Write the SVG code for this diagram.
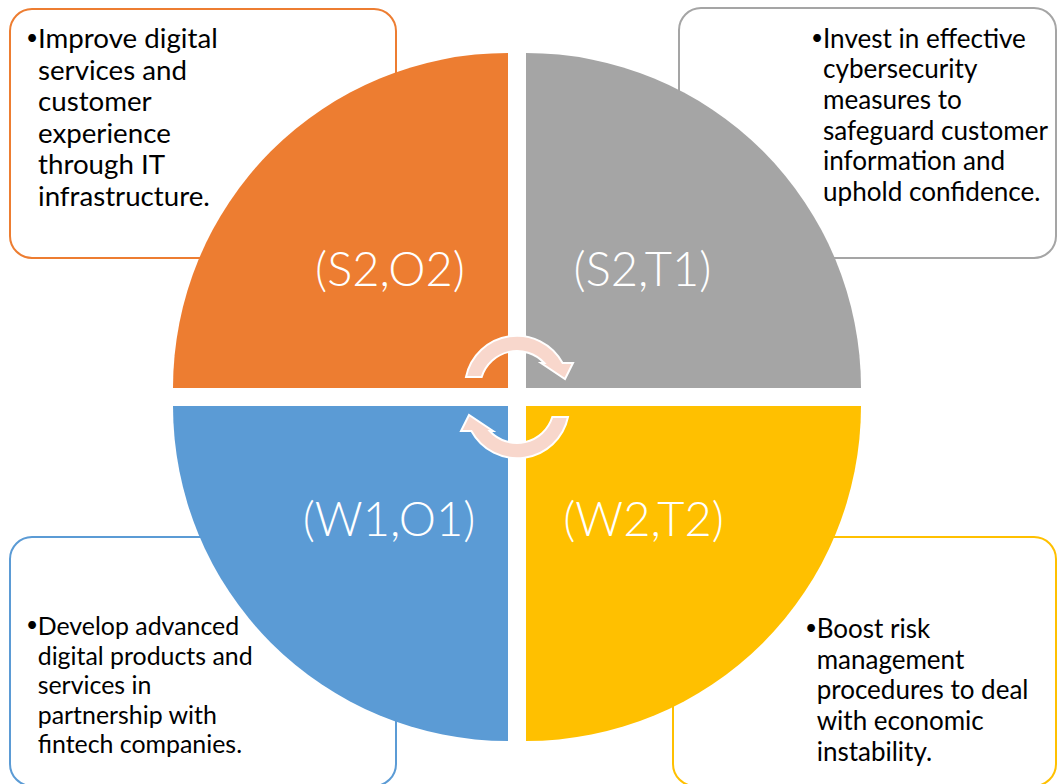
<svg xmlns="http://www.w3.org/2000/svg" width="1057" height="784" viewBox="0 0 1057 784">
  <style>
    .box { fill: #FFFFFF; stroke-width: 2; }
    .body { font-family: Lato, "Liberation Sans", sans-serif; fill: #000000; }
    .dot { font-family: Lato, "Liberation Sans", sans-serif; font-size: 21px; fill: #000000; }
    .label { font-family: Lato, "Liberation Sans", sans-serif; font-weight: 300; font-size: 47px; fill: #FFFFFF; text-anchor: middle; }
    .cycle { fill: #F8D7CC; stroke: #FFFFFF; stroke-width: 2; stroke-linejoin: miter; }
  </style>
  <defs>
    <!-- curved cycle arrow around the centre of the wheel -->
    <path id="cycleArrow" d="M 466 377 A 52 52 0 0 1 562.6 363 L 573 363 L 565 379 L 541 363 L 544.3 363 A 37 37 0 0 0 481.7 377 Z"/>
  </defs>
  <rect width="1057" height="784" fill="#FFFFFF"/>

  <!-- S2,O2 : top-left -->
  <g id="node-s2-o2">
    <rect class="box" x="10" y="9" width="386" height="249" rx="22" stroke="#ED7D31"/>
    <path d="M 508 388 L 173 388 A 335 335 0 0 1 508 53 Z" fill="#ED7D31"/>
    <text class="label" x="390" y="286">(S2,O2)</text>
    <text class="dot" x="26" y="45">•</text>
    <g class="body" font-size="27.7">
      <text x="38" y="48">Improve digital</text>
      <text x="38" y="79.6">services and</text>
      <text x="38" y="111.2">customer</text>
      <text x="38" y="142.8">experience</text>
      <text x="38" y="174.4">through IT</text>
      <text x="38" y="206">infrastructure.</text>
    </g>
  </g>

  <!-- S2,T1 : top-right -->
  <g id="node-s2-t1">
    <rect class="box" x="679" y="8" width="377" height="250" rx="22" stroke="#A5A5A5"/>
    <path d="M 526 388 L 526 53 A 335 335 0 0 1 861 388 Z" fill="#A5A5A5"/>
    <text class="label" x="642.5" y="286">(S2,T1)</text>
    <text class="dot" x="811" y="44.7">•</text>
    <g class="body" font-size="26.1">
      <text x="823" y="47.7">Invest in effective</text>
      <text x="823" y="78.3">cybersecurity</text>
      <text x="823" y="108.9">measures to</text>
      <text x="823" y="139.5">safeguard customer</text>
      <text x="823" y="170.1">information and</text>
      <text x="823" y="200.7">uphold confidence.</text>
    </g>
  </g>

  <!-- W1,O1 : bottom-left -->
  <g id="node-w1-o1">
    <rect class="box" x="10" y="537" width="386" height="249" rx="22" stroke="#5B9BD5"/>
    <path d="M 508 406 L 508 741 A 335 335 0 0 1 173 406 Z" fill="#5B9BD5"/>
    <text class="label" x="389" y="536">(W1,O1)</text>
    <text class="dot" x="26" y="632">•</text>
    <g class="body" font-size="24.9">
      <text x="37.7" y="635">Develop advanced</text>
      <text x="37.7" y="664.5">digital products and</text>
      <text x="37.7" y="694">services in</text>
      <text x="37.7" y="723.5">partnership with</text>
      <text x="37.7" y="753">fintech companies.</text>
    </g>
  </g>

  <!-- W2,T2 : bottom-right -->
  <g id="node-w2-t2">
    <rect class="box" x="673" y="537" width="383" height="249" rx="22" stroke="#FFC000"/>
    <path d="M 526 406 L 861 406 A 335 335 0 0 1 526 741 Z" fill="#FFC000"/>
    <text class="label" x="643.5" y="536">(W2,T2)</text>
    <text class="dot" x="805" y="635">•</text>
    <g class="body" font-size="26">
      <text x="816.7" y="638">Boost risk</text>
      <text x="816.7" y="668.7">management</text>
      <text x="816.7" y="699.4">procedures to deal</text>
      <text x="816.7" y="730">with economic</text>
      <text x="816.7" y="760.8">instability.</text>
    </g>
  </g>

  <!-- connectors: the two cycle arrows -->
  <g id="connectors">
    <use href="#cycleArrow" class="cycle"/>
    <use href="#cycleArrow" class="cycle" transform="rotate(180 517 397)"/>
  </g>
</svg>
